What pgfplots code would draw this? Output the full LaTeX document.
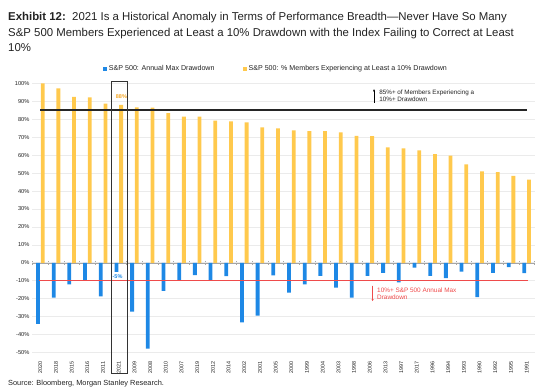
\documentclass[border=0pt]{standalone}
\usepackage{fontspec}
\setmainfont{Liberation Sans}
\usepackage{pgfplots}
\pgfplotsset{compat=1.18}
\usepackage{pgfplotstable}
\usetikzlibrary{arrows.meta}
\definecolor{msblue}{HTML}{1E88E5}
\definecolor{msyellow}{HTML}{FFC94D}
\definecolor{msred}{HTML}{EF4B4B}
\definecolor{msorange}{HTML}{F5A623}
\definecolor{gridgray}{HTML}{EBEBEB}
\definecolor{txt}{HTML}{222222}

\pgfplotstableread{
idx year dd pct
0 2020 -33.9 100
1 2018 -19.3 97.2
2 2015 -12.0 92.4
3 2016 -9.8 92.2
4 2011 -18.7 88.7
5 2021 -5.0 88.0
6 2009 -27.2 86.6
7 2008 -47.8 86.4
8 2010 -15.6 83.4
9 2007 -10.0 81.4
10 2019 -6.8 81.4
11 2012 -9.8 79.2
12 2014 -7.4 78.8
13 2002 -33.1 78.3
14 2001 -29.3 75.5
15 2005 -6.9 74.9
16 2000 -16.5 73.8
17 1999 -11.9 73.3
18 2004 -7.2 73.3
19 2003 -13.7 72.7
20 1998 -19.3 70.7
21 2006 -7.2 70.6
22 2013 -5.6 64.3
23 1997 -10.9 63.8
24 2017 -2.6 62.7
25 1996 -7.2 60.5
26 1994 -8.5 59.7
27 1993 -4.8 54.8
28 1990 -19.1 50.9
29 1992 -5.6 50.5
30 1995 -2.4 48.5
31 1991 -5.7 46.4
}\data

\begin{document}
\begin{tikzpicture}
\useasboundingbox (0pt,0pt) rectangle (548pt,390pt);
\node[anchor=north west, align=left, inner sep=0pt, text=txt,
      font=\fontsize{11.4}{15.2}\selectfont] at (8pt,377.5pt)
  {\textbf{Exhibit 12:}\ \ 2021 Is a Historical Anomaly in Terms of Performance Breadth---Never Have So Many\\
   S\&P 500 Members Experienced at Least a 10\% Drawdown with the Index Failing to Correct at Least\\
   10\%};

% zero line with ticks between categories
\begin{axis}[
  at={(32pt,37.3pt)}, anchor=south west,
  scale only axis, width=503pt, height=269.4pt,
  xmin=-0.53, xmax=31.53, ymin=-50, ymax=100,
  axis y line=none,
  axis x line=middle,
  axis line style={draw=gray!70, line width=0.6pt, -},
  xtick={-0.5,0.5,...,31.5}, xticklabels={},
  tick style={draw=gray!70, line width=0.6pt},
  major tick length=4pt, tick align=center,
]
\end{axis}

\begin{axis}[
  at={(32pt,37.3pt)}, anchor=south west,
  scale only axis, width=503pt, height=269.4pt,
  xmin=-0.53, xmax=31.53, ymin=-50, ymax=100,
  clip=false,
  ybar=0.9pt, bar width=3.8pt,
  axis line style={draw=none},
  tick style={draw=none},
  ymajorgrids, grid style={draw=gridgray, line width=0.8pt},
  ytick={-50,-40,...,100},
  yticklabel={\pgfmathprintnumber{\tick}\%},
  /pgf/number format/assume math mode=true,
  yticklabel style={font=\fontsize{5.7}{6}\selectfont, text=txt, xshift=1pt},
  xtick={0,...,31},
  xticklabels from table={\data}{year},
  xticklabel style={rotate=90, anchor=east, font=\fontsize{5.4}{6}\selectfont, text=txt, yshift=0pt, xshift=-1pt},
  legend style={at={(0.485,1.053)}, anchor=center, draw=none, fill=none,
     legend columns=2, font=\fontsize{7.1}{8}\selectfont, text=txt,
     /tikz/every even column/.append style={column sep=26pt},
     inner sep=0pt},
  legend image code/.code={\fill[#1] (0pt,-2pt) rectangle (4pt,2pt);},
]
\addplot[fill=msblue, draw=none] table[x=idx, y=dd] {\data};
\addplot[fill=msyellow, draw=none] table[x=idx, y=pct] {\data};
\legend{S\&P 500: Annual Max Drawdown, S\&P 500: \% Members Experiencing at Least a 10\% Drawdown}

\draw[line width=1.6pt, draw=black!85] (axis cs:-0.02,85) -- (axis cs:31.02,85);
\draw[line width=1.2pt, draw=msred] (axis cs:-0.09,-10) -- (axis cs:31.06,-10);

\draw[line width=0.8pt, draw=black!80] (axis cs:4.52,100.9) rectangle (axis cs:5.57,-61.4);

\node[font=\bfseries\fontsize{5.5}{6}\selectfont, text=msorange] at (axis cs:5.17,92.4) {88\%};
\node[font=\bfseries\fontsize{5.5}{6}\selectfont, text=msblue] at (axis cs:4.92,-7.4) {-5\%};

\draw[-{Latex[length=2.5pt,width=2.2pt]}, line width=0.5pt] (axis cs:21.27,89.3) -- (axis cs:21.27,96.9);
\node[anchor=west, align=left, inner sep=0pt, text=txt,
      font=\fontsize{6.3}{7.6}\selectfont] at (axis cs:21.6,93.0)
  {85\%+ of Members Experiencing a\\10\%+ Drawdown};

\draw[-{Latex[length=2.5pt,width=2.2pt]}, line width=0.5pt, draw=msred, fill=msred] (axis cs:21.18,-12.6) -- (axis cs:21.18,-21.5);
\node[anchor=west, align=left, inner sep=0pt, text=msred,
      font=\fontsize{6.4}{7.7}\selectfont] at (axis cs:21.46,-17.1)
  {10\%+ S\&P 500 Annual Max\\Drawdown};
\end{axis}

\node[anchor=west, inner sep=0pt, text=txt, font=\fontsize{7.4}{8}\selectfont] at (8pt,6pt)
  {Source: Bloomberg, Morgan Stanley Research.};
\end{tikzpicture}
\end{document}
